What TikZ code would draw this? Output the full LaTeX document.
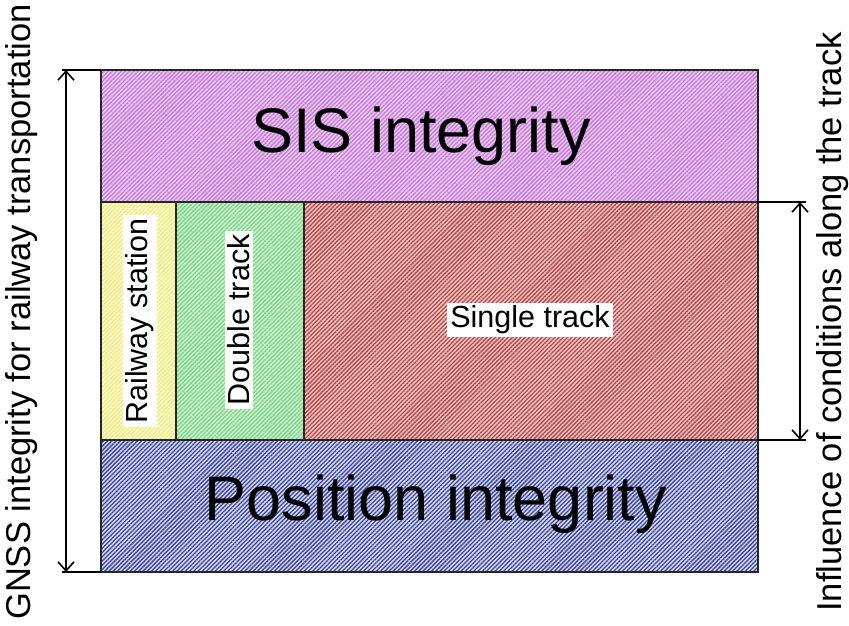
\documentclass[tikz,border=0pt]{standalone}
\usepackage{fontspec}
\setmainfont{Liberation Sans}
\usetikzlibrary{patterns.meta,arrows.meta}
\definecolor{sisbg}{HTML}{EDC6F2}
\definecolor{sisln}{HTML}{C27FD6}
\definecolor{rsbg}{HTML}{FFFFC8}
\definecolor{rsln}{HTML}{F0E68C}
\definecolor{dtbg}{HTML}{CDF2CD}
\definecolor{dtln}{HTML}{7FD48C}
\definecolor{stbg}{HTML}{F2C4C4}
\definecolor{stln}{HTML}{B04A4A}
\definecolor{pibg}{HTML}{D4DAF2}
\definecolor{piln}{HTML}{3E4494}
\tikzset{
  area/.style={rectangle, draw=black!85, line width=1.8pt, inner sep=0pt, outer sep=0pt,
    anchor=north west},
  hatch/.style n args={2}{preaction={fill=#1}, pattern={Lines[angle=45,distance=3pt,line width=1.3pt]}, pattern color=#2},
  biglabel/.style={font=\fontsize{63}{63}\selectfont, text=black},
  sidelabel/.style={font=\fontsize{34.5}{34.5}\selectfont, rotate=90, inner sep=0pt},
  boxlabel/.style={font=\fontsize{30.5}{30.5}\selectfont, fill=white, inner sep=3pt},
  dim/.style={line width=1.8pt, black, {Straight Barb[length=9pt,width=16pt,line width=1.6pt]}-{Straight Barb[length=9pt,width=16pt,line width=1.6pt]}},
  ext/.style={line width=1.8pt, black}
}
\begin{document}
\begin{tikzpicture}[x=1pt,y=-1pt]
\useasboundingbox (0,0) rectangle (849,625);
% areas
\node[area, hatch={sisbg}{sisln}, minimum width=657pt, minimum height=132pt] (sis) at (101,70) {};
\node[area, hatch={rsbg}{rsln}, minimum width=75pt, minimum height=238pt] (rs) at (101,202) {};
\node[area, hatch={dtbg}{dtln}, minimum width=128pt, minimum height=238pt] (dt) at (176,202) {};
\node[area, hatch={stbg}{stln}, minimum width=454pt, minimum height=238pt] (st) at (304,202) {};
\node[area, hatch={pibg}{piln}, minimum width=657pt, minimum height=132pt] (pi) at (101,440) {};
% big labels
\node[biglabel] (sist) at (421,136) {SIS integrity};
\node[biglabel] (pit) at (436,504) {Position integrity};
% inner labels
\node[boxlabel, rotate=90] (rst) at (140,321) {Railway station};
\node[boxlabel, rotate=90] (dtt) at (239,320) {Double track};
\node[boxlabel] (stt) at (530,320) {Single track};
% left dimension
\coordinate (lt) at (62,70);
\coordinate (lb) at (62,572);
\coordinate (la) at (66,70);
\coordinate (lz) at (66,572);
\draw[ext] (sis.north west) -- (lt);
\draw[ext] (pi.south west) -- (lb);
\draw[dim] (la) -- (lz);
% right dimension
\coordinate (rt) at (806,202);
\coordinate (rb) at (806,440);
\coordinate (ra) at (800,202);
\coordinate (rz) at (800,440);
\draw[ext] (st.north east) -- (rt);
\draw[ext] (st.south east) -- (rb);
\draw[dim] (ra) -- (rz);
% side labels
\node[sidelabel] (gnss) at (22,312) {GNSS integrity for railway transportation};
\node[sidelabel] (infl) at (833,322) {Influence of conditions along the track};
\end{tikzpicture}
\end{document}
